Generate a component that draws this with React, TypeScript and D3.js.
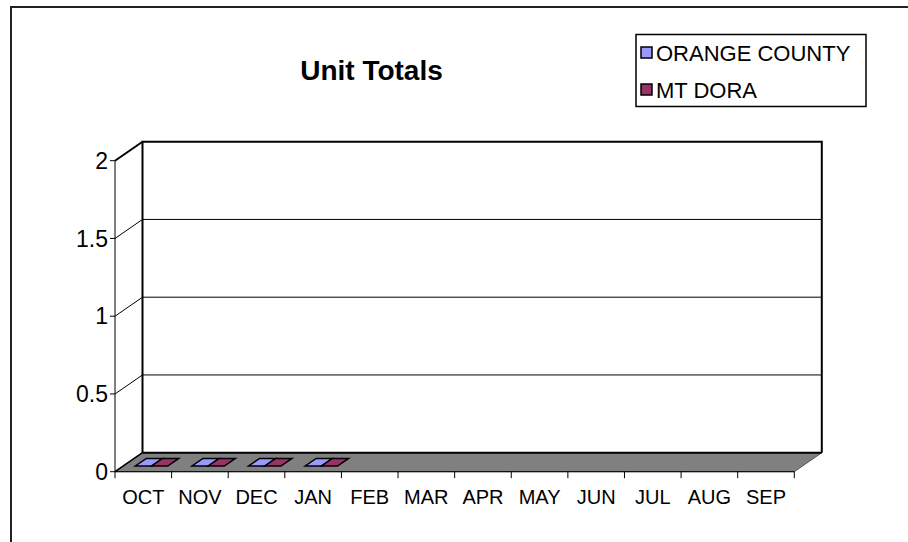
import React from 'react';
import * as d3 from 'd3';

const months = ['OCT', 'NOV', 'DEC', 'JAN', 'FEB', 'MAR', 'APR', 'MAY', 'JUN', 'JUL', 'AUG', 'SEP'];
const orangeCounty: (number | null)[] = [0, 0, 0, 0, null, null, null, null, null, null, null, null];
const mtDora: (number | null)[] = [0, 0, 0, 0, null, null, null, null, null, null, null, null];
const seriesNames = ['ORANGE COUNTY', 'MT DORA'];
const seriesColors = ['#9999FF', '#993366'];
const yTicks = [0, 0.5, 1, 1.5, 2];
const yTickLabels = ['0', '0.5', '1', '1.5', '2'];
const title = 'Unit Totals';

const W = 908;
const H = 542;
const FX0 = 115;
const FX1 = 794.3;
const FY0 = 471.7;
const FY1 = 160.7;
const DX = 27.5;
const DY = -19;
const FONT = "'Liberation Sans', Arial, sans-serif";

export default function App() {
  const x = d3.scaleBand<string>().domain(months).range([FX0, FX1]).paddingInner(0).paddingOuter(0);
  const y = d3.scaleLinear().domain([0, 2]).range([FY0, FY1]);
  const bw = x.bandwidth();
  const barW = bw / 3.5;
  const d0 = 0.3;
  const d1 = 0.7;
  const series = [orangeCounty, mtDora];

  const pts = (arr: [number, number][]) => arr.map((p) => p.join(',')).join(' ');

  const backL = FX0 + DX;
  const backR = FX1 + DX;
  const backT = FY1 + DY;
  const backB = FY0 + DY;

  const legendFont = 22;
  const legendTextStart = 656;
  const legendRows = [61, 98];

  return (
    <svg width={W} height={H} style={{ position: 'absolute', left: 0, top: 0, background: '#fff' }} fontFamily={FONT}>
      <rect x={0} y={0} width={W} height={H} fill="#fff" />
      {/* outer chart frame */}
      <rect x={11} y={7} width={W + 20} height={H + 20} fill="#fff" stroke="#222" strokeWidth={2} />

      {/* back wall */}
      <rect x={backL} y={backT} width={backR - backL} height={backB - backT} fill="#fff" />
      {/* side wall */}
      <polygon points={pts([[FX0, FY1], [backL, backT], [backL, backB], [FX0, FY0]])} fill="#fff" />

      {/* gridlines */}
      {yTicks.filter((t) => t > 0 && t < 2).map((t) => (
        <g key={'g' + t}>
          <line x1={backL} x2={backR} y1={y(t) + DY} y2={y(t) + DY} stroke="#000" strokeWidth={1} />
          <line x1={FX0} x2={backL} y1={y(t)} y2={y(t) + DY} stroke="#000" strokeWidth={1} />
        </g>
      ))}

      {/* floor */}
      <polygon points={pts([[FX0, FY0], [FX1, FY0], [backR, backB], [backL, backB]])} fill="#808080" stroke="#555" strokeWidth={1} />

      {/* back wall border */}
      <polyline points={pts([[backL, backB], [backL, backT], [backR, backT], [backR, backB]])} fill="none" stroke="#000" strokeWidth={2} />
      <line x1={backL} x2={backR} y1={backB} y2={backB} stroke="#000" strokeWidth={2} />
      {/* side wall top edge and floor left edge */}
      <line x1={FX0} y1={FY1} x2={backL} y2={backT} stroke="#000" strokeWidth={2} />
      <line x1={FX0} y1={FY0} x2={backL} y2={backB} stroke="#000" strokeWidth={1.5} />

      {/* bars */}
      {months.map((m, i) =>
        series.map((s, si) => {
          const v = s[i];
          if (v === null || v === undefined) return null;
          const xs = (x(m) as number) + 0.75 * barW + si * barW;
          const yv = y(v);
          const yb = y(0);
          const faces: JSX.Element[] = [];
          if (v > 0) {
            faces.push(
              <polygon key="f" points={pts([[xs + d0 * DX, yb + d0 * DY], [xs + barW + d0 * DX, yb + d0 * DY], [xs + barW + d0 * DX, yv + d0 * DY], [xs + d0 * DX, yv + d0 * DY]])} fill={seriesColors[si]} stroke="#000" strokeWidth={1} />,
              <polygon key="s" points={pts([[xs + barW + d0 * DX, yb + d0 * DY], [xs + barW + d1 * DX, yb + d1 * DY], [xs + barW + d1 * DX, yv + d1 * DY], [xs + barW + d0 * DX, yv + d0 * DY]])} fill={d3.color(seriesColors[si])!.darker(0.8).toString()} stroke="#000" strokeWidth={1} />
            );
          }
          faces.push(
            <polygon key="t" points={pts([[xs + d0 * DX, yv + d0 * DY], [xs + barW + d0 * DX, yv + d0 * DY], [xs + barW + d1 * DX, yv + d1 * DY], [xs + d1 * DX, yv + d1 * DY]])} fill={seriesColors[si]} stroke="#000" strokeWidth={1.5} />
          );
          return <g key={m + si}>{faces}</g>;
        })
      )}

      {/* value axis */}
      <line x1={FX0} x2={FX0} y1={FY1} y2={FY0} stroke="#000" strokeWidth={1} />
      {yTicks.map((t, i) => (
        <g key={'y' + t}>
          <line x1={FX0 - 5} x2={FX0} y1={y(t)} y2={y(t)} stroke="#000" strokeWidth={1} />
          <text x={108} y={y(t) + 8.2} textAnchor="end" fontSize={23} fill="#000">{yTickLabels[i]}</text>
        </g>
      ))}

      {/* category axis */}
      <line x1={FX0} x2={FX1} y1={FY0} y2={FY0} stroke="#000" strokeWidth={1} />
      {[...months.map((m) => x(m) as number), FX1].map((tx, i) => (
        <line key={'ct' + i} x1={tx} x2={tx} y1={FY0} y2={FY0 + 6.5} stroke="#000" strokeWidth={1} />
      ))}
      {months.map((m) => (
        <text key={'cl' + m} x={(x(m) as number) + bw / 2} y={504} textAnchor="middle" fontSize={20} fill="#000">{m}</text>
      ))}

      {/* title */}
      <text x={371.5} y={80} textAnchor="middle" fontSize={28} fontWeight="bold" fill="#000">{title}</text>

      {/* legend */}
      <rect x={legendTextStart - 20} y={34.5} width={866 - (legendTextStart - 20)} height={72} fill="#fff" stroke="#000" strokeWidth={1.5} />
      {seriesNames.map((n, i) => (
        <g key={n}>
          <rect x={legendTextStart - 15} y={legendRows[i] - 14} width={11} height={11} fill={seriesColors[i]} stroke="#000" strokeWidth={1.5} />
          <text x={legendTextStart} y={legendRows[i]} fontSize={legendFont} fill="#000">{n}</text>
        </g>
      ))}
    </svg>
  );
}
